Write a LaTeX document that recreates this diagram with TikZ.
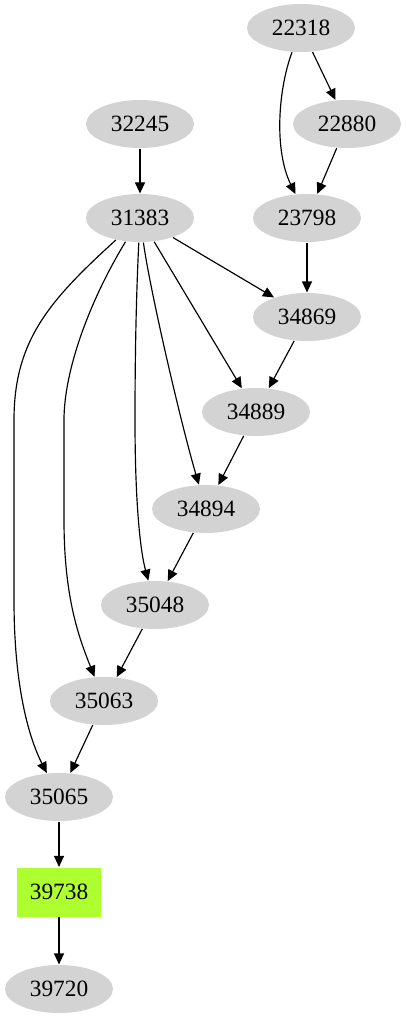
\documentclass[tikz,border=0pt]{standalone}
\usepackage{fontspec}
\setmainfont{Liberation Serif}
\usetikzlibrary{shapes.geometric,arrows.meta}
\definecolor{nodegray}{HTML}{D3D3D3}
\definecolor{hitgreen}{HTML}{ADFF2F}

\begin{document}
\begin{tikzpicture}[x=0.6pt,y=-0.6pt,
    main/.style = {ellipse, fill=nodegray, minimum width=64.8pt, minimum height=28.8pt, inner sep=0pt, font=\fontsize{14}{16}\selectfont},
    hit/.style = {rectangle, fill=hitgreen, minimum width=50.4pt, minimum height=29.4pt, inner sep=0pt, font=\fontsize{14}{16}\selectfont},
    every path/.style = {line width=0.7pt},
    >={Triangle[length=6.6pt,width=6pt]}]
    \useasboundingbox (0,0) rectangle (406,1019);
                \node[main] (n22318) at (301,28) {22318};
                \node[main] (n22880) at (347,124) {22880};
                \node[main] (n32245) at (140,124) {32245};
                \node[main] (n31383) at (140,218) {31383};
                \node[main] (n23798) at (307,218) {23798};
                \node[main] (n34869) at (307,317) {34869};
                \node[main] (n34889) at (256,412) {34889};
                \node[main] (n34894) at (206,509) {34894};
                \node[main] (n35048) at (155,605) {35048};
                \node[main] (n35063) at (104,701) {35063};
                \node[main] (n35065) at (59,797) {35065};
                \node[hit] (n39738) at (59,892) {39738};
                \node[main] (n39720) at (59,989) {39720};
                \path[->]
                    (n22318) edge (n22880)
                    (n22880) edge (n23798)
                    (n32245) edge (n31383)
                    (n23798) edge (n34869)
                    (n31383) edge (n34869)
                    (n31383) edge (n34889)
                    (n34869) edge (n34889)
                    (n34889) edge (n34894)
                    (n34894) edge (n35048)
                    (n35048) edge (n35063)
                    (n35063) edge (n35065)
                    (n35065) edge (n39738)
                    (n39738) edge (n39720);
                % curved ones
                \draw[->] (n22318) .. controls (278,90) and (274,150) .. (n23798);
                \draw[->] (n31383) .. controls (150,290) and (180,420) .. (n34894);
                \draw[->] (n31383) .. controls (136,300) and (135,360) .. (135,420) .. controls (135,500) and (140,550) .. (n35048);
                \draw[->] (n31383) .. controls (90,300) and (64,370) .. (64,420) -- (64,520) .. controls (64,600) and (80,640) .. (n35063);
                \draw[->] (n31383) .. controls (50,300) and (14,340) .. (14,420) -- (14,600) .. controls (14,690) and (30,740) .. (n35065);
            \end{tikzpicture}
\end{document}
